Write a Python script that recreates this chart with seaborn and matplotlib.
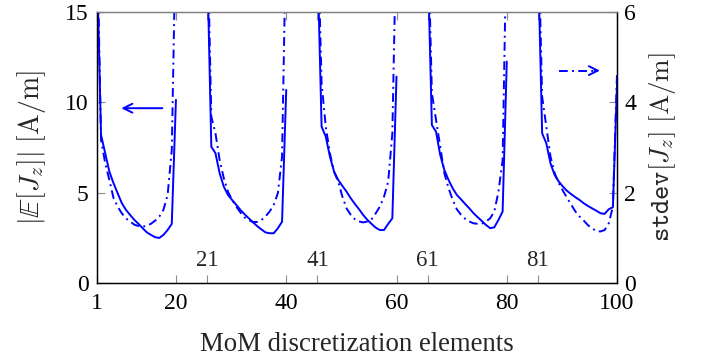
import seaborn as sns
import matplotlib.pyplot as plt
import pandas as pd
import numpy as np

# ---- data (5 groups of 20 MoM elements) ----
# mean |E[Jz]| [A/m], left axis
mean_1_20 = [18.0, 8.19, 7.18, 6.16, 5.52, 4.96, 4.41, 4.04, 3.76, 3.49,
             3.27, 3.03, 2.80, 2.66, 2.53, 2.49, 2.66, 2.93, 3.27, 10.13]
mean_21_40 = [18.0, 7.54, 7.18, 6.07, 5.33, 4.87, 4.59, 4.32, 4.04, 3.80,
              3.58, 3.36, 3.15, 2.97, 2.80, 2.75, 2.75, 3.03, 3.39, 10.68]
mean_41_60 = [18.0, 8.65, 8.10, 6.99, 6.16, 5.70, 5.37, 5.05, 4.69, 4.37,
              4.08, 3.76, 3.49, 3.27, 3.06, 2.93, 2.93, 3.27, 3.58, 11.42]
mean_61_80 = [18.0, 8.74, 8.37, 7.08, 6.25, 5.70, 5.24, 4.87, 4.63, 4.37,
              4.13, 3.86, 3.64, 3.43, 3.21, 3.03, 3.08, 3.49, 3.95, 12.25]
mean_81_100 = [18.0, 8.28, 7.73, 6.62, 5.98, 5.61, 5.33, 5.09, 4.91, 4.74,
               4.59, 4.41, 4.26, 4.13, 4.00, 3.86, 3.82, 4.08, 4.19, 11.05]

# stdev[Jz] [A/m], right axis
std_1_20 = [8.0, 3.17, 2.65, 2.28, 1.88, 1.69, 1.54, 1.43, 1.36, 1.29,
            1.26, 1.25, 1.26, 1.31, 1.38, 1.47, 1.62, 1.95, 2.94, 8.0]
std_21_40 = [8.0, 3.68, 3.31, 2.72, 2.32, 2.02, 1.84, 1.69, 1.56, 1.45,
             1.39, 1.35, 1.35, 1.39, 1.47, 1.58, 1.73, 1.99, 2.80, 8.0]
std_41_60 = [8.0, 4.42, 3.46, 2.87, 2.46, 2.24, 1.91, 1.65, 1.51, 1.41,
             1.36, 1.34, 1.36, 1.41, 1.54, 1.69, 1.91, 2.24, 3.31, 8.0]
std_61_80 = [8.0, 4.20, 3.61, 3.02, 2.43, 2.10, 1.84, 1.63, 1.51, 1.42,
             1.36, 1.32, 1.31, 1.31, 1.36, 1.43, 1.58, 2.02, 2.72, 8.0]
std_81_100 = [8.0, 4.12, 3.46, 2.80, 2.43, 2.21, 2.04, 1.88, 1.73, 1.58,
              1.47, 1.38, 1.28, 1.21, 1.15, 1.14, 1.17, 1.32, 1.69, 4.68]

mean_groups = [mean_1_20, mean_21_40, mean_41_60, mean_61_80, mean_81_100]
std_groups = [std_1_20, std_21_40, std_41_60, std_61_80, std_81_100]

major_ticks = [1, 20, 40, 60, 80, 100]
inner_ticks = [21, 41, 61, 81]


# element number -> position on the (broken) x axis: each group of 20
# elements gets the same width, with a gap between groups
def pos(e):
    k, j = divmod(e - 1, 20)
    return 21.2 * k + 0.8 * j


rows = []
for k, (m, s) in enumerate(zip(mean_groups, std_groups)):
    for j in range(20):
        e = 20 * k + j + 1
        rows.append({"element": e, "x": pos(e), "group": k,
                     "mean": m[j], "stdev": s[j]})
df = pd.DataFrame(rows)

# ---- style ----
sns.set_style("ticks")
plt.rcParams["font.family"] = ["Liberation Serif", "DejaVu Serif"]
plt.rcParams["mathtext.fontset"] = "cm"

blue = "#0000ff"
lw = 1.4
dashdot = (4.5, 2.2, 1.0, 2.2)

fig, ax = plt.subplots(figsize=(7.02, 3.60), dpi=100)
fig.subplots_adjust(left=0.138, right=0.879, top=0.967, bottom=0.214)
ax2 = ax.twinx()

sns.lineplot(data=df, x="x", y="mean", units="group", estimator=None,
             color=blue, lw=lw, ax=ax)
sns.lineplot(data=df, x="x", y="stdev", units="group", estimator=None,
             color=blue, lw=lw, ax=ax2)
for ln in ax2.get_lines():
    ln.set_dashes(dashdot)

ax.set_xlim(0, 100)
ax.set_ylim(0, 15)
ax2.set_ylim(0, 6)
ax.set_yticks([0, 5, 10, 15])
ax2.set_yticks([0, 2, 4, 6])

ax.set_xticks([pos(e) for e in major_ticks])
ax.set_xticklabels([str(e) for e in major_ticks])
ax.set_xticks([pos(e) for e in inner_ticks], minor=True)

for a in (ax, ax2):
    a.tick_params(which="both", direction="in", length=6, width=0.8,
                  color="0.55", labelsize=17, labelcolor="black")
ax.tick_params(axis="x", which="both", top=True, pad=7)
ax.tick_params(axis="y", pad=6)
ax2.tick_params(axis="y", pad=5)

for a in (ax, ax2):
    for side in ("left", "right", "bottom"):
        a.spines[side].set_color("black")
        a.spines[side].set_linewidth(0.9)
    a.spines["top"].set_color("0.5")
    a.spines["top"].set_linewidth(0.9)

# labels of the first element of each group, drawn inside the axes
for e in inner_ticks:
    ax.text(pos(e), 1.27, str(e), ha="center", va="center", fontsize=16.5)

ax.set_xlabel("MoM discretization elements", fontsize=19.3, labelpad=13)
ax.set_ylabel(r"$|\mathbb{E}[J_z]|\ [\mathrm{A/m}]$", fontsize=20,
              labelpad=12)
ax2.set_ylabel(r"$\mathtt{stdev}[J_z]\ [\mathrm{A/m}]$", fontsize=19.5,
               rotation=90, labelpad=8)

# arrows pointing at the axis each curve belongs to
mean_arrow = (12.6, 4.7, 9.67)
std_arrow = (88.9, 96.7, 4.70)
ax.annotate("", xy=(mean_arrow[1], mean_arrow[2]),
            xytext=(mean_arrow[0], mean_arrow[2]),
            arrowprops=dict(arrowstyle="->", color=blue, lw=lw,
                            mutation_scale=16, shrinkA=0, shrinkB=0))
ax2.plot([std_arrow[0], std_arrow[1] - 0.4], [std_arrow[2]] * 2,
         color=blue, lw=lw, dashes=dashdot)
ax2.annotate("", xy=(std_arrow[1], std_arrow[2]),
             xytext=(std_arrow[1] - 1.0, std_arrow[2]),
             arrowprops=dict(arrowstyle="->", color=blue, lw=lw,
                             mutation_scale=16, shrinkA=0, shrinkB=0))

plt.savefig("out.png", dpi=100)
plt.close()
